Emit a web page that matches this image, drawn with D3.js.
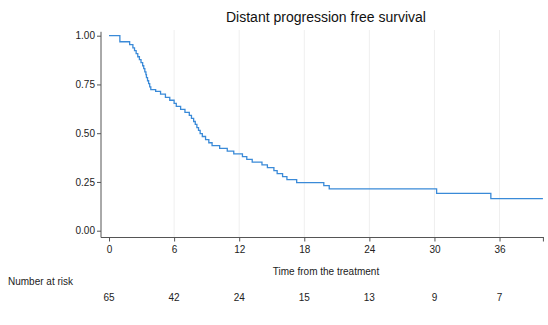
<!DOCTYPE html>
<html>
<head>
<meta charset="utf-8">
<script src="https://cdn.jsdelivr.net/npm/d3@7"></script>
<style>
  html, body { margin: 0; padding: 0; background: #fff; }
  svg { display: block; font-family: "Liberation Sans", Arial, sans-serif; }
</style>
</head>
<body>
<svg id="chart" width="548" height="325"></svg>
<script>
// Kaplan–Meier estimate: step times (months) and survival after each step
const stepTimes = [0, 1.0, 1.9, 2.2, 2.35, 2.5, 2.65, 2.8, 2.95, 3.1, 3.2, 3.3, 3.4, 3.45, 3.55, 3.65, 3.75, 3.85,
  4.3, 4.75, 5.2, 5.6, 6.0, 6.2, 6.6, 7.0, 7.4, 7.6, 7.8, 7.95, 8.1, 8.25, 8.4, 8.6, 8.9, 9.2, 9.5,
  10.2, 10.9, 11.5, 12.3, 12.7, 13.2, 14.1, 14.6, 15.2, 15.5, 16.0, 16.4, 17.3, 19.8, 20.3, 30.2, 35.2];
const survival = [1.000, 0.969, 0.954, 0.938, 0.923, 0.908, 0.892, 0.877, 0.862, 0.846, 0.831, 0.815, 0.800, 0.785, 0.769, 0.754, 0.738, 0.723,
  0.715, 0.700, 0.684, 0.669, 0.653, 0.638, 0.622, 0.607, 0.591, 0.576, 0.560, 0.545, 0.529, 0.514, 0.498, 0.483, 0.467, 0.451, 0.436,
  0.422, 0.408, 0.394, 0.380, 0.366, 0.352, 0.338, 0.323, 0.308, 0.293, 0.277, 0.262, 0.247, 0.231, 0.215, 0.191, 0.164];
const followUpEnd = 40;

const xTicks = [0, 6, 12, 18, 24, 30, 36];
const yTicks = [0, 0.25, 0.5, 0.75, 1];
const atRisk = [65, 42, 24, 15, 13, 9, 7];

const titleText = "Distant progression free survival";
const xLabel = "Time from the treatment";
const riskLabel = "Number at risk";

const svg = d3.select("#chart");

const x = d3.scaleLinear().domain([-0.74, 40.1]).range([101, 544]);
const y = d3.scaleLinear().domain([0, 1]).range([230.7, 35.7]);
const axisY = 237.5;

// vertical grid lines
svg.append("g").selectAll("line").data(xTicks.slice(1)).join("line")
  .attr("x1", d => x(d)).attr("x2", d => x(d))
  .attr("y1", 30).attr("y2", axisY)
  .attr("stroke", "#efefef").attr("stroke-width", 1);

// y axis
const yAxis = d3.axisLeft(y).tickValues(yTicks).tickFormat(d3.format(".2f")).tickSize(4).tickPadding(2);
const gy = svg.append("g").attr("transform", "translate(101,0)").call(yAxis);
gy.select(".domain").attr("d", `M0,${y(1.02)}V${axisY}`);

// x axis
const xAxis = d3.axisBottom(x).tickValues(xTicks.concat([followUpEnd])).tickFormat(d => d === followUpEnd ? "" : d).tickSize(4).tickPadding(4);
const gx = svg.append("g").attr("transform", `translate(0,${axisY})`).call(xAxis);
gx.select(".domain").attr("d", `M101,0H${x(followUpEnd) + 1}`);

[gx, gy].forEach(g => {
  g.select(".domain").attr("stroke", "#555").attr("stroke-width", 1);
  g.selectAll(".tick line").attr("stroke", "#555");
  g.selectAll(".tick text").attr("fill", "#222").style("font-size", "10px").style("font-family", "'Liberation Sans', Arial, sans-serif");
});

// survival step curve
const pts = stepTimes.map((t, i) => [t, survival[i]]);
pts.push([followUpEnd, survival[survival.length - 1]]);
const line = d3.line().x(d => x(d[0])).y(d => y(d[1])).curve(d3.curveStepAfter);
svg.append("path").datum(pts)
  .attr("d", line)
  .attr("fill", "none")
  .attr("stroke", "#3a8ad8")
  .attr("stroke-width", 1.3);

// title
svg.append("text").attr("x", 326).attr("y", 22).attr("text-anchor", "middle")
  .style("font-size", "14px").attr("fill", "#111").text(titleText);

// x axis title
svg.append("text").attr("x", 326).attr("y", 275).attr("text-anchor", "middle")
  .style("font-size", "10px").attr("fill", "#222").text(xLabel);

// number at risk table
svg.append("text").attr("x", 8).attr("y", 285)
  .style("font-size", "10px").attr("fill", "#222").text(riskLabel);
svg.append("g").selectAll("text").data(atRisk).join("text")
  .attr("x", (d, i) => x(xTicks[i])).attr("y", 301).attr("text-anchor", "middle")
  .style("font-size", "10px").attr("fill", "#222").text(d => d);
</script>
</body>
</html>
